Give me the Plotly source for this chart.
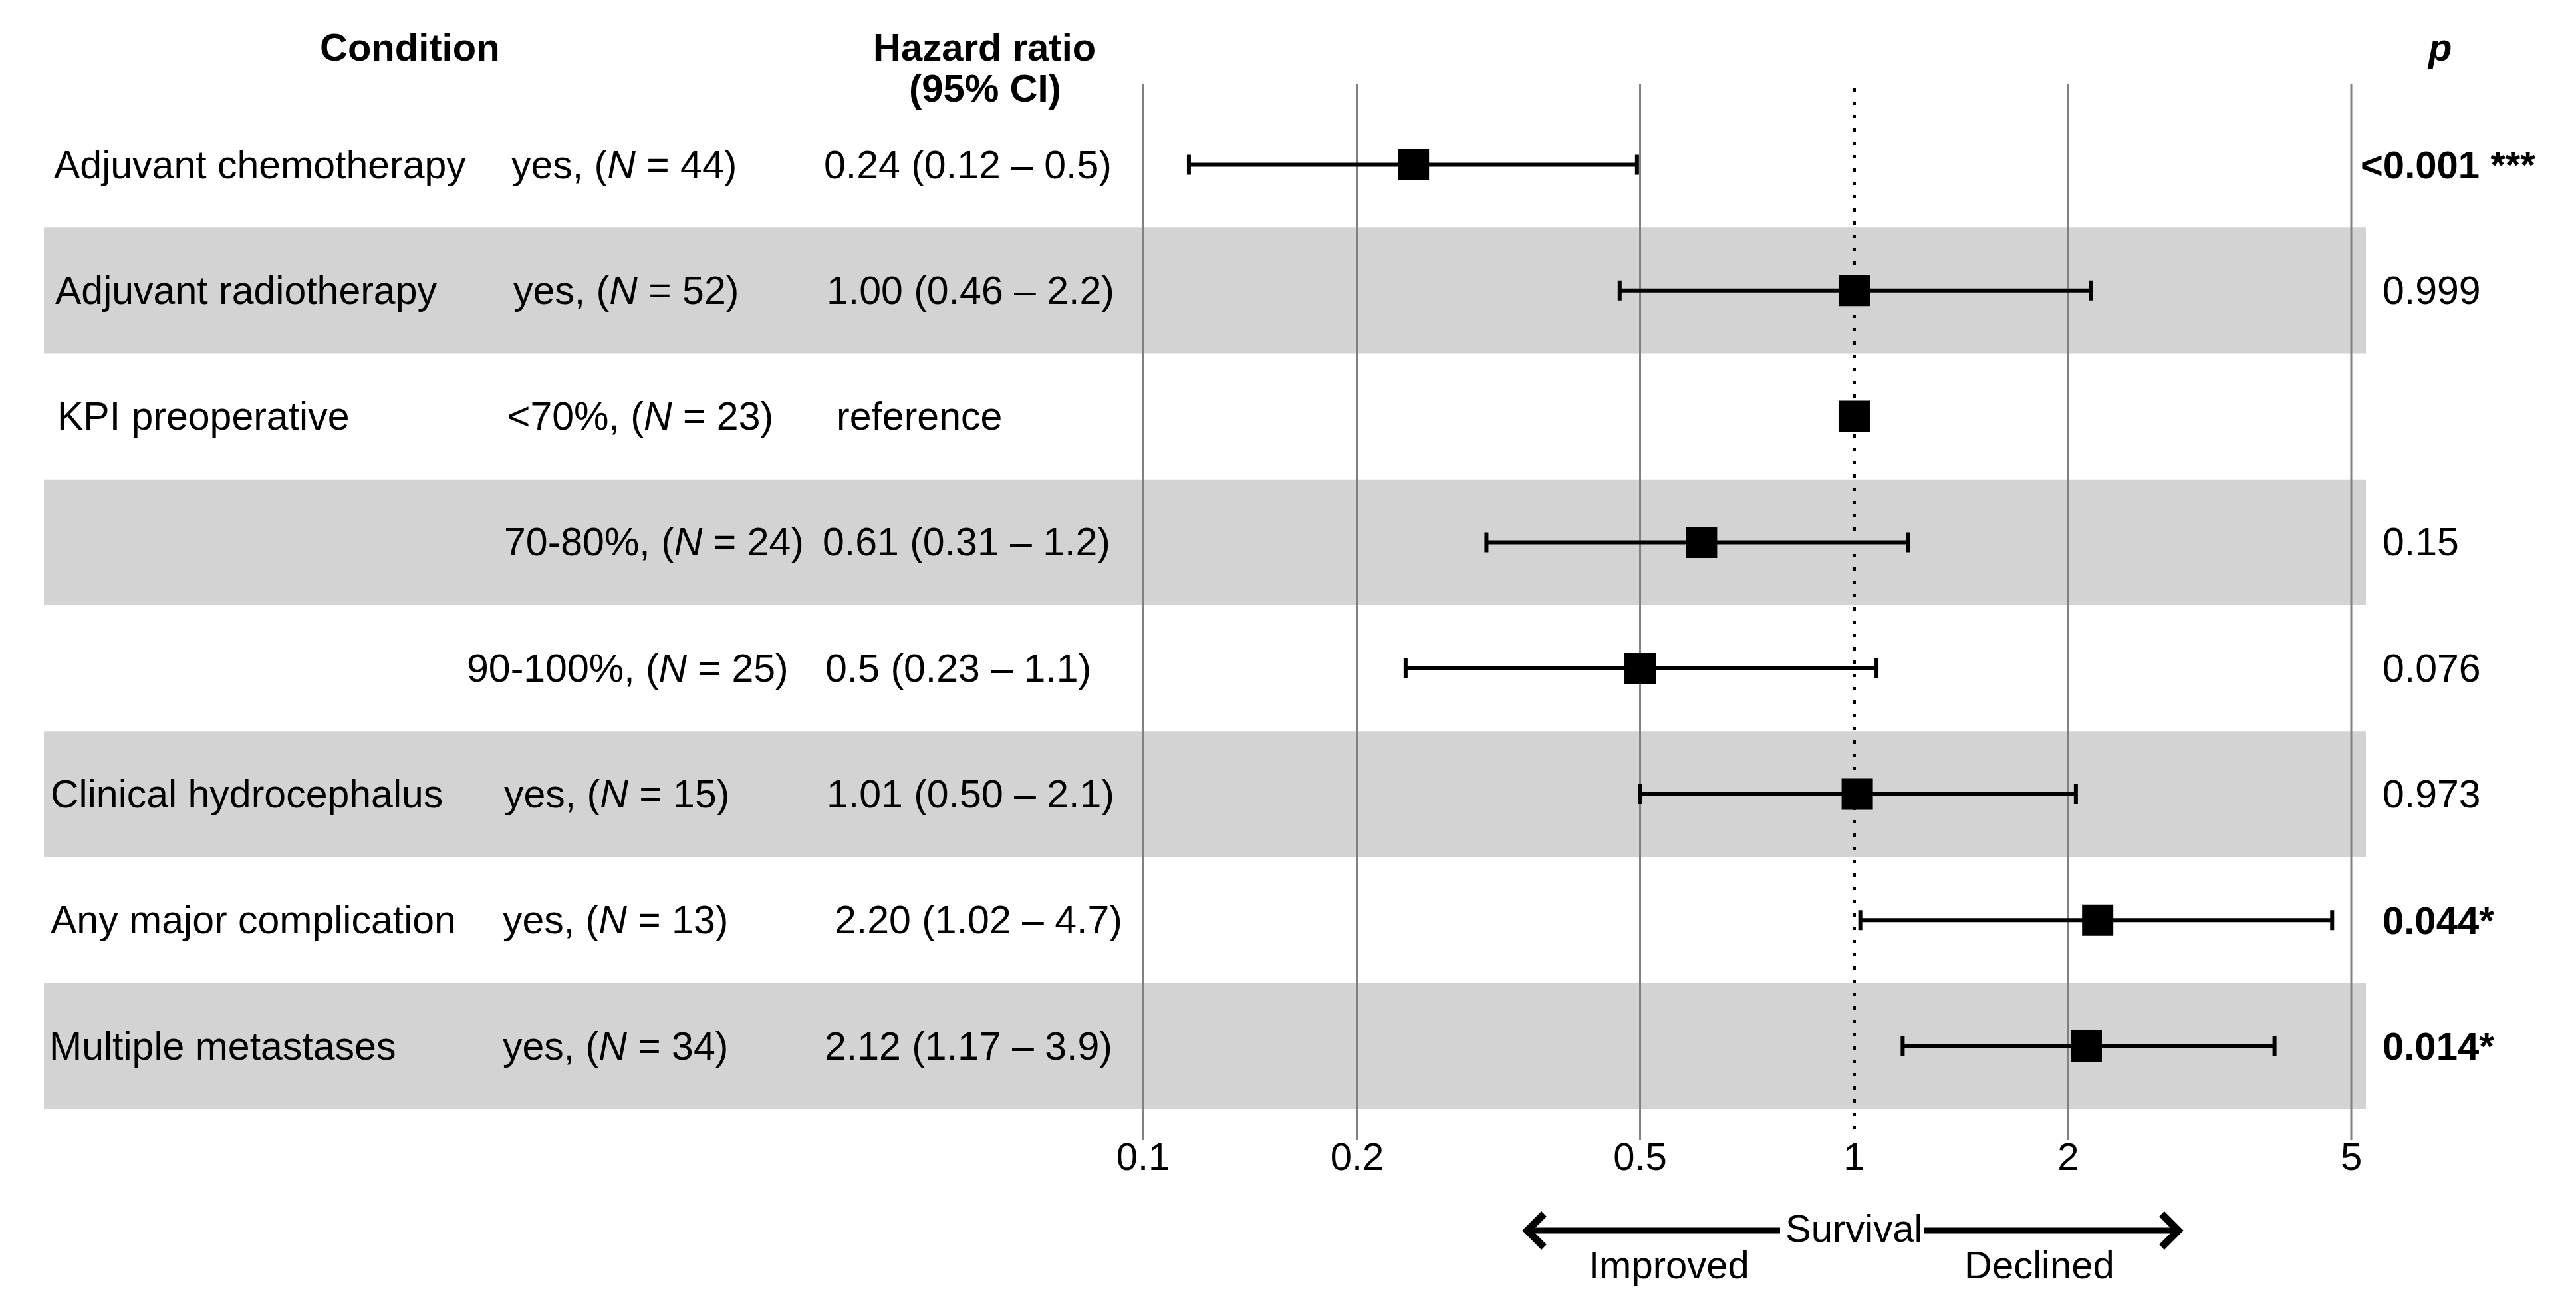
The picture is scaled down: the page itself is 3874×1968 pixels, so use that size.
import numpy as np
import plotly.graph_objects as go

# ---------------- data ----------------
conditions = ["Adjuvant chemotherapy", "Adjuvant radiotherapy", "KPI preoperative", "", "",
              "Clinical hydrocephalus", "Any major complication", "Multiple metastases"]
groups = ["yes", "yes", "&lt;70%", "70-80%", "90-100%", "yes", "yes", "yes"]
n_values = [44, 52, 23, 24, 25, 15, 13, 34]
hr = [0.24, 1.00, 1.00, 0.61, 0.5, 1.01, 2.20, 2.12]
ci_low = [0.116, 0.468, None, 0.304, 0.234, 0.50, 1.02, 1.17]
ci_high = [0.495, 2.15, None, 1.19, 1.075, 2.05, 4.7, 3.9]
hr_labels = ["0.24 (0.12 – 0.5)", "1.00 (0.46 – 2.2)", "reference", "0.61 (0.31 – 1.2)",
             "0.5 (0.23 – 1.1)", "1.01 (0.50 – 2.1)", "2.20 (1.02 – 4.7)", "2.12 (1.17 – 3.9)"]
p_labels = ["&lt;0.001 ***", "0.999", "", "0.15", "0.076", "0.973", "0.044*", "0.014*"]
p_bold = [True, False, False, False, False, False, True, True]
tick_vals = [0.1, 0.2, 0.5, 1, 2, 5]
tick_text = ["0.1", "0.2", "0.5", "1", "2", "5"]

# ---------------- layout geometry (pixels) ----------------
W, H = 3874, 1968
ROW0, PITCH = 247.5, 189.3          # centre of first row, row pitch
X01, X5 = 1719.0, 3536.0            # pixel of 0.1 and 5 on the log axis
DEC = (X5 - X01) / np.log10(50)     # pixels per decade
FS = 59
FSB = 58
FONT = "Liberation Sans, Arial, sans-serif"

def ry(pix):   # pixel y -> row units
    return 1 + (pix - ROW0) / PITCH

def pxx(pix):  # pixel x -> paper
    return pix / W

def pyy(pix):  # pixel y -> paper
    return 1 - pix / H

rows = list(range(1, len(hr) + 1))

fig = go.Figure()

# CI rows
idx = [i for i in range(len(hr)) if ci_low[i] is not None]
fig.add_trace(go.Scatter(
    x=[hr[i] for i in idx], y=[rows[i] for i in idx], mode="markers",
    marker=dict(symbol="square", size=47, color="black", line=dict(width=0)),
    error_x=dict(type="data", symmetric=False,
                 array=[ci_high[i] - hr[i] for i in idx],
                 arrayminus=[hr[i] - ci_low[i] for i in idx],
                 thickness=6, width=15, color="black"),
    showlegend=False, hoverinfo="skip"))
# reference row
ridx = [i for i in range(len(hr)) if ci_low[i] is None]
fig.add_trace(go.Scatter(
    x=[hr[i] for i in ridx], y=[rows[i] for i in ridx], mode="markers",
    marker=dict(symbol="square", size=47, color="black", line=dict(width=0)),
    showlegend=False, hoverinfo="skip"))

shapes = []
# alternating bands
for r in rows:
    if r % 2 == 0:
        shapes.append(dict(type="rect", xref="paper", yref="y", x0=pxx(66), x1=pxx(3558),
                           y0=r - 0.5, y1=r + 0.5, fillcolor="#D3D3D3",
                           line=dict(width=0), layer="below"))
# vertical grid lines (shape x on a log axis is given in data values)
for v in tick_vals:
    if v == 1:
        continue
    shapes.append(dict(type="line", xref="x", yref="y", x0=v, x1=v,
                       y0=ry(127), y1=ry(1714), line=dict(color="#808080", width=3),
                       layer="below"))
# reference line at 1
shapes.append(dict(type="line", xref="x", yref="y", x0=1, x1=1, y0=ry(133), y1=ry(1704),
                   line=dict(color="black", width=5, dash="5px,15px"), layer="below"))
# survival arrows
AY = 1850
shapes.append(dict(type="line", xref="paper", yref="paper", x0=pxx(2297), x1=pxx(2677),
                   y0=pyy(AY), y1=pyy(AY), line=dict(color="black", width=9)))
shapes.append(dict(type="line", xref="paper", yref="paper", x0=pxx(2893), x1=pxx(3276),
                   y0=pyy(AY), y1=pyy(AY), line=dict(color="black", width=9)))
shapes.append(dict(type="path", xref="paper", yref="paper",
                   path=f"M {pxx(2322)},{pyy(AY-25)} L {pxx(2297)},{pyy(AY)} L {pxx(2322)},{pyy(AY+25)}",
                   line=dict(color="black", width=11)))
shapes.append(dict(type="path", xref="paper", yref="paper",
                   path=f"M {pxx(3251)},{pyy(AY-25)} L {pxx(3276)},{pyy(AY)} L {pxx(3251)},{pyy(AY+25)}",
                   line=dict(color="black", width=11)))

ann = []
def text(x, y, t, anchor="left", xref="paper", size=FS):
    ann.append(dict(x=x, y=y, xref=xref, yref="y", text=t, showarrow=False,
                    xanchor=anchor, yanchor="middle",
                    font=dict(family=FONT, size=size, color="black")))

# headers
text(pxx(616), ry(70.5), "<b>Condition</b>", "center", size=FSB)
text(pxx(1480), ry(70.5), "<b>Hazard ratio</b>", "center", size=FSB)
text(pxx(1481), ry(132), "<b>(95% CI)</b>", "center", size=FSB)
text(pxx(3668), ry(70.5), "<b><i>p</i></b>", "center", size=FSB)

cond_x = [79, 81, 84, 0, 0, 74, 74, 72]
n_x = [767, 770, 761, 756, 700, 756, 754, 754]
hr_x = [1237, 1241, 1256, 1235, 1239, 1241, 1253, 1238]
p_x = [3548, 3581, 3581, 3581, 3581, 3581, 3581, 3581]
for i, r in enumerate(rows):
    if conditions[i]:
        text(pxx(cond_x[i]), r, conditions[i])
    text(pxx(n_x[i]), r, f"{groups[i]}, (<i>N</i> = {n_values[i]})")
    text(pxx(hr_x[i]), r, hr_labels[i])
    if p_labels[i]:
        t = f"<b>{p_labels[i]}</b>" if p_bold[i] else p_labels[i]
        text(pxx(p_x[i]), r, t, size=FSB if p_bold[i] else FS)

# bottom labels
text(0, ry(1846), "Survival", "center", xref="x", size=FSB)
text(pxx(2510), ry(1901), "Improved", "center", size=FSB)
text(pxx(3067), ry(1901), "Declined", "center", size=FSB)

fig.update_layout(
    template="none",
    width=W, height=H,
    margin=dict(l=0, r=0, t=0, b=0, pad=0),
    paper_bgcolor="white", plot_bgcolor="white",
    font=dict(family=FONT, size=FS, color="black"),
    shapes=shapes, annotations=ann, showlegend=False,
    xaxis=dict(type="log", range=[-1 - X01 / DEC, -1 + (W - X01) / DEC],
               tickvals=tick_vals, ticktext=tick_text, showgrid=False, zeroline=False,
               showline=False, ticks="", anchor="free", position=pyy(1700),
               tickfont=dict(family=FONT, size=FSB, color="black"), automargin=False,
               fixedrange=True),
    yaxis=dict(range=[ry(H), ry(0)], visible=False, automargin=False, fixedrange=True),
)

fig.write_html("out.html", config={"displayModeBar": False},
               post_script="document.body.style.margin='0px';")
